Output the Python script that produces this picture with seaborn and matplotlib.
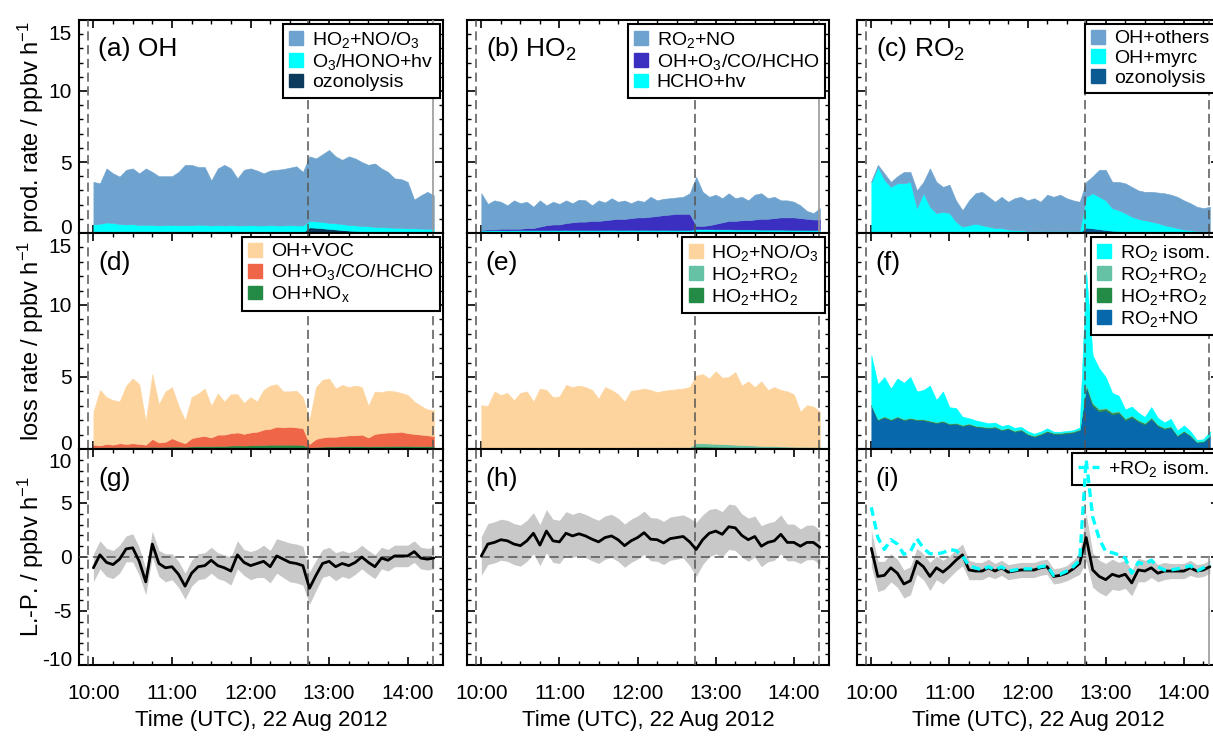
import matplotlib
matplotlib.use("Agg")
import matplotlib.pyplot as plt
from matplotlib.patches import Patch
from matplotlib.lines import Line2D
from matplotlib.ticker import MultipleLocator
from matplotlib.transforms import ScaledTranslation
import numpy as np
import seaborn as sns

# ---------------------------------------------------------------------------
# Time axis: minutes after 10:00 UTC, 22 Aug 2012
# ---------------------------------------------------------------------------
minutes = [0, 5, 10, 15, 20, 25, 30, 35, 40, 45, 50, 55, 60,
           65, 70, 75, 80, 85, 90, 95, 100, 105, 110, 115, 120, 125, 130, 135, 140, 145, 150, 155, 160,
           165, 170, 175, 180, 185, 190, 195, 200, 205, 210, 215, 220, 225, 230, 235, 240, 245, 250, 255, 260]
hour_ticks = [0, 60, 120, 180, 240]
hour_labels = ["10:00", "11:00", "12:00", "13:00", "14:00"]
event_minutes = [-4, 164, 259]

# ---------------------------------------------------------------------------
# (a) OH production terms, ppbv/h
# ---------------------------------------------------------------------------
oh_ozonolysis = [0.10, 0.10, 0.09, 0.09, 0.08, 0.08, 0.07, 0.07, 0.06, 0.06, 0.05, 0.05, 0.05,
                 0.04, 0.04, 0.04, 0.04, 0.04, 0.03, 0.03, 0.03, 0.03, 0.03, 0.03, 0.03, 0.03, 0.03, 0.03, 0.03, 0.03, 0.03, 0.03, 0.03,
                 0.40, 0.37, 0.33, 0.29, 0.25, 0.21, 0.17, 0.14, 0.11, 0.09, 0.07, 0.06, 0.05, 0.04, 0.04, 0.03, 0.03, 0.03, 0.03, 0.03]
oh_photolysis = [0.50, 0.55, 0.65, 0.62, 0.55, 0.52, 0.55, 0.50, 0.52, 0.50, 0.48, 0.50, 0.52,
                 0.50, 0.52, 0.50, 0.55, 0.52, 0.50, 0.52, 0.50, 0.52, 0.50, 0.50, 0.52, 0.50, 0.50, 0.52, 0.50, 0.50, 0.52, 0.50, 0.50,
                 0.45, 0.45, 0.45, 0.42, 0.43, 0.42, 0.40, 0.40, 0.38, 0.38, 0.36, 0.35, 0.34, 0.33, 0.32, 0.30, 0.30, 0.28, 0.27, 0.26]
oh_from_ho2 = [3.00, 2.85, 3.81, 3.49, 3.34, 3.85, 3.93, 3.63, 3.97, 3.74, 3.47, 3.45, 3.43,
               3.76, 4.24, 4.26, 4.06, 4.09, 3.17, 4.00, 4.27, 4.00, 3.32, 3.92, 4.00, 3.87, 3.67, 3.85, 3.92, 3.97, 4.05, 4.17, 3.77,
               4.55, 4.43, 4.77, 5.14, 4.72, 4.52, 4.83, 4.71, 4.51, 4.33, 4.47, 4.14, 3.91, 3.48, 3.44, 3.27, 2.02, 2.34, 2.60, 2.36]

# ---------------------------------------------------------------------------
# (b) HO2 production terms
# ---------------------------------------------------------------------------
ho2_hcho_phot = [0.18, 0.19, 0.20, 0.20, 0.19, 0.20, 0.21, 0.20, 0.20, 0.21, 0.20, 0.21, 0.21,
                 0.22, 0.21, 0.22, 0.22, 0.21, 0.22, 0.22, 0.23, 0.22, 0.22, 0.23, 0.22, 0.23, 0.22, 0.22, 0.23, 0.22, 0.22, 0.22, 0.22,
                 0.28, 0.27, 0.27, 0.26, 0.26, 0.26, 0.25, 0.25, 0.25, 0.25, 0.24, 0.24, 0.24, 0.24, 0.23, 0.23, 0.22, 0.22, 0.22, 0.22]
ho2_from_oh = [0.02, 0.06, 0.05, 0.10, 0.11, 0.10, 0.09, 0.15, 0.15, 0.24, 0.35, 0.39, 0.39,
               0.48, 0.54, 0.58, 0.58, 0.64, 0.63, 0.68, 0.72, 0.78, 0.77, 0.82, 0.88, 0.87, 0.93, 0.98, 1.03, 1.08, 1.13, 1.13, 1.13,
               0.22, 0.23, 0.28, 0.39, 0.49, 0.59, 0.60, 0.65, 0.65, 0.70, 0.76, 0.76, 0.81, 0.86, 0.87, 0.87, 0.83, 0.78, 0.73, 0.73]
ho2_from_ro2 = [2.60, 1.80, 2.05, 1.90, 1.65, 2.00, 1.80, 1.85, 1.50, 1.85, 1.40, 1.60, 1.45,
                1.60, 1.35, 1.55, 1.50, 1.10, 1.45, 1.25, 1.50, 1.20, 1.30, 1.05, 1.20, 1.10, 1.40, 1.10, 1.15, 1.15, 1.15, 1.20, 1.45,
                3.45, 2.40, 2.00, 2.05, 1.70, 1.95, 1.60, 1.65, 1.40, 1.75, 1.80, 1.45, 1.50, 1.20, 1.20, 1.10, 0.90, 0.55, 0.45, 0.80]

# ---------------------------------------------------------------------------
# (c) RO2 production terms
# ---------------------------------------------------------------------------
ro2_ozonolysis = [0.08, 0.08, 0.08, 0.07, 0.07, 0.07, 0.06, 0.06, 0.06, 0.05, 0.05, 0.05, 0.05,
                  0.04, 0.04, 0.04, 0.04, 0.04, 0.03, 0.03, 0.03, 0.03, 0.03, 0.03, 0.03, 0.03, 0.03, 0.03, 0.03, 0.03, 0.03, 0.03, 0.03,
                  0.38, 0.33, 0.27, 0.21, 0.16, 0.12, 0.09, 0.07, 0.05, 0.04, 0.04, 0.03, 0.03, 0.03, 0.03, 0.03, 0.03, 0.03, 0.03, 0.03]
ro2_myrcene = [3.52, 4.57, 3.67, 3.18, 3.43, 3.43, 3.54, 1.69, 2.74, 1.80, 1.35, 1.45, 1.35,
               0.76, 0.41, 0.51, 0.61, 0.51, 0.42, 0.32, 0.32, 0.22, 0.17, 0.17, 0.12, 0.12, 0.12, 0.12, 0.12, 0.12, 0.12, 0.12, 0.12,
               2.17, 2.47, 2.28, 2.09, 1.59, 1.48, 1.31, 1.08, 0.95, 0.86, 0.76, 0.67, 0.52, 0.42, 0.32, 0.22, 0.17, 0.12, 0.12, 0.07]
ro2_others = [0.05, 0.15, 0.45, 0.35, 0.50, 0.80, 0.70, 1.25, 0.80, 2.70, 2.20, 1.75, 2.00,
              1.50, 1.15, 1.75, 2.15, 2.35, 2.10, 1.85, 2.20, 1.95, 2.25, 2.35, 2.15, 2.30, 2.05, 2.55, 2.40, 2.55, 2.30, 2.15, 2.05,
              1.05, 1.20, 1.90, 2.15, 1.85, 2.00, 2.10, 2.10, 2.00, 2.00, 2.10, 2.15, 2.25, 2.25, 2.20, 2.05, 1.90, 1.70, 1.60, 1.75]

# ---------------------------------------------------------------------------
# (d) OH loss terms
# ---------------------------------------------------------------------------
oh_nox = [0.12, 0.12, 0.13, 0.13, 0.14, 0.14, 0.15, 0.15, 0.14, 0.16, 0.15, 0.16, 0.17,
          0.17, 0.16, 0.18, 0.20, 0.20, 0.20, 0.22, 0.22, 0.24, 0.25, 0.24, 0.26, 0.27, 0.28, 0.30, 0.30, 0.30, 0.30, 0.30, 0.28,
          0.10, 0.15, 0.17, 0.18, 0.18, 0.20, 0.20, 0.20, 0.20, 0.18, 0.20, 0.20, 0.21, 0.22, 0.22, 0.22, 0.21, 0.20, 0.20, 0.20]
oh_inorg = [0.18, 0.13, 0.22, 0.17, 0.26, 0.21, 0.25, 0.20, 0.16, 0.54, 0.30, 0.34, 0.58,
            0.38, 0.24, 0.57, 0.65, 0.70, 0.60, 0.78, 0.78, 0.86, 0.90, 0.81, 0.89, 0.93, 1.07, 1.10, 1.25, 1.20, 1.25, 1.20, 1.17,
            0.25, 0.55, 0.63, 0.67, 0.67, 0.70, 0.75, 0.75, 0.80, 0.62, 0.85, 0.90, 0.94, 0.93, 0.98, 0.88, 0.84, 0.80, 0.75, 0.70]
oh_voc = [2.30, 3.85, 3.25, 3.10, 2.90, 4.05, 4.50, 4.15, 1.60, 4.50, 2.65, 3.50, 3.55,
          2.45, 1.60, 2.85, 3.00, 3.30, 2.20, 2.85, 2.30, 2.70, 2.65, 2.15, 2.45, 2.10, 2.75, 3.00, 2.95, 2.50, 2.45, 2.55, 2.15,
          1.65, 3.60, 4.00, 4.05, 3.35, 3.55, 3.35, 3.45, 3.30, 2.20, 2.95, 2.85, 2.90, 2.85, 2.70, 2.65, 2.25, 2.00, 1.80, 1.80]

# ---------------------------------------------------------------------------
# (e) HO2 loss terms
# ---------------------------------------------------------------------------
ho2_self = [0.02, 0.02, 0.02, 0.03, 0.03, 0.02, 0.03, 0.03, 0.03, 0.03, 0.03, 0.03, 0.03,
            0.03, 0.03, 0.03, 0.03, 0.03, 0.03, 0.03, 0.03, 0.03, 0.03, 0.03, 0.03, 0.03, 0.03, 0.03, 0.03, 0.03, 0.03, 0.03, 0.04,
            0.18, 0.18, 0.17, 0.16, 0.15, 0.14, 0.13, 0.12, 0.11, 0.10, 0.09, 0.08, 0.08, 0.07, 0.07, 0.06, 0.06, 0.05, 0.05, 0.05]
ho2_ro2 = [0.05, 0.05, 0.05, 0.05, 0.05, 0.05, 0.05, 0.05, 0.05, 0.05, 0.05, 0.05, 0.05,
           0.06, 0.06, 0.06, 0.06, 0.06, 0.06, 0.06, 0.06, 0.06, 0.06, 0.08, 0.08, 0.08, 0.08, 0.08, 0.08, 0.08, 0.08, 0.08, 0.08,
           0.22, 0.22, 0.21, 0.20, 0.19, 0.18, 0.17, 0.16, 0.15, 0.14, 0.13, 0.12, 0.12, 0.11, 0.10, 0.10, 0.09, 0.09, 0.08, 0.08]
ho2_no = [2.97, 2.92, 3.92, 3.67, 3.82, 3.32, 3.82, 3.92, 3.22, 4.12, 4.02, 3.52, 3.57,
          4.36, 4.21, 4.31, 4.21, 4.01, 3.41, 4.21, 4.01, 3.71, 3.21, 3.94, 3.99, 4.09, 3.99, 3.84, 3.94, 3.99, 4.04, 4.09, 4.19,
          4.70, 4.80, 4.52, 5.04, 4.61, 4.68, 5.05, 4.12, 4.44, 4.06, 4.48, 3.90, 4.10, 3.92, 3.83, 3.64, 2.45, 2.91, 2.82, 2.47]

# ---------------------------------------------------------------------------
# (f) RO2 loss terms
# ---------------------------------------------------------------------------
ro2_no = [3.00, 2.00, 2.20, 2.00, 2.20, 2.00, 2.10, 2.00, 2.00, 1.90, 1.80, 1.90, 1.70,
          1.75, 1.60, 1.70, 1.55, 1.50, 1.45, 1.50, 1.30, 1.40, 1.20, 1.30, 1.00, 0.85, 1.00, 1.20, 1.05, 1.05, 1.10, 1.15, 1.30,
          4.30, 3.00, 2.60, 2.70, 2.40, 2.50, 2.00, 2.20, 1.90, 1.70, 2.10, 1.60, 1.40, 1.50, 0.90, 1.20, 0.90, 0.45, 0.50, 0.90]
ro2_ho2 = [0.06, 0.06, 0.06, 0.06, 0.06, 0.06, 0.06, 0.06, 0.06, 0.06, 0.06, 0.06, 0.06,
           0.06, 0.06, 0.06, 0.06, 0.06, 0.06, 0.06, 0.06, 0.06, 0.06, 0.06, 0.06, 0.06, 0.06, 0.06, 0.06, 0.06, 0.06, 0.06, 0.06,
           0.15, 0.14, 0.13, 0.12, 0.12, 0.11, 0.10, 0.10, 0.09, 0.09, 0.08, 0.08, 0.07, 0.07, 0.06, 0.06, 0.06, 0.05, 0.05, 0.05]
ro2_self = [0.03, 0.03, 0.03, 0.03, 0.03, 0.03, 0.03, 0.03, 0.03, 0.03, 0.03, 0.03, 0.03,
            0.03, 0.03, 0.03, 0.03, 0.03, 0.03, 0.03, 0.03, 0.03, 0.03, 0.03, 0.03, 0.03, 0.03, 0.03, 0.03, 0.03, 0.03, 0.03, 0.03,
            0.08, 0.07, 0.07, 0.06, 0.06, 0.05, 0.05, 0.05, 0.04, 0.04, 0.04, 0.04, 0.03, 0.03, 0.03, 0.03, 0.03, 0.03, 0.03, 0.03]
ro2_isom = [3.41, 2.41, 2.71, 2.11, 2.61, 2.51, 2.81, 1.91, 2.01, 2.41, 1.51, 2.01, 1.11,
            1.01, 0.55, 0.35, 0.35, 0.30, 0.25, 0.25, 0.20, 0.20, 0.18, 0.15, 0.15, 0.12, 0.12, 0.15, 0.06, 0.06, 0.06, 0.06, 0.11,
            7.77, 3.29, 2.80, 2.12, 1.32, 1.04, 0.60, 0.60, 0.50, 0.40, 0.70, 0.45, 0.35, 0.50, 0.30, 0.35, 0.25, 0.10, 0.10, 0.25]

# ---------------------------------------------------------------------------
# (g)-(i) loss minus production with uncertainty
# ---------------------------------------------------------------------------
oh_balance = [-1.0, 0.2, -0.5, -0.7, -0.2, 0.75, 0.85, -0.4, -2.3, 1.2, -0.6, -1.0, -0.9,
              -1.6, -2.7, -1.5, -0.9, -0.8, -0.3, -0.8, -1.0, -1.3, 0.2, -0.5, -0.8, -0.6, -0.4, -0.9, 0.1, -0.2, -0.5, -0.6, -0.8,
              -2.9, -1.7, -0.6, -0.4, -0.9, -0.6, -0.8, -0.5, 0.0, -0.5, -0.9, -0.1, -0.3, 0.1, 0.1, 0.1, 0.5, -0.1, -0.2, -0.1]
oh_balance_err = [1.3, 1.3, 1.3, 1.3, 1.3, 1.2, 1.3, 1.3, 1.2, 1.2, 1.2, 1.3, 1.2,
                  1.2, 1.2, 1.2, 1.2, 1.2, 1.2, 1.2, 1.2, 1.3, 1.3, 1.2, 1.3, 1.3, 1.5, 1.5, 1.6, 1.7, 1.8, 1.8, 1.8,
                  1.5, 1.4, 1.3, 1.3, 1.3, 1.2, 1.2, 1.1, 1.1, 1.1, 1.1, 1.0, 1.0, 1.0, 1.0, 1.0, 1.0, 1.0, 1.0, 1.0]
ho2_balance = [0.1, 1.2, 1.35, 1.6, 1.5, 1.2, 1.05, 1.5, 2.2, 1.1, 2.4, 1.5, 1.4,
               2.2, 1.95, 2.15, 1.95, 1.65, 1.4, 1.8, 1.95, 1.6, 1.05, 1.5, 1.8, 2.25, 1.65, 1.6, 1.3, 1.7, 1.8, 1.9, 1.4,
               0.7, 1.6, 2.2, 2.4, 2.1, 2.8, 2.7, 2.0, 1.6, 1.9, 1.0, 1.35, 1.5, 2.1, 1.35, 1.35, 1.0, 1.35, 1.35, 0.9]
ho2_balance_err = [1.8, 1.9, 1.9, 1.9, 1.9, 1.9, 1.9, 1.9, 1.9, 1.9, 2.0, 2.0, 2.0,
                   2.0, 2.0, 2.0, 2.0, 2.0, 2.0, 2.0, 2.0, 2.0, 2.0, 2.0, 2.0, 2.0, 2.0, 2.0, 2.0, 2.0, 2.0, 2.0, 2.2,
                   2.5, 2.3, 2.2, 2.1, 2.1, 2.1, 2.1, 2.0, 2.0, 1.9, 1.9, 1.8, 1.8, 1.8, 1.7, 1.7, 1.6, 1.6, 1.6, 1.6]
ro2_balance = [0.8, -1.8, -1.7, -1.0, -1.5, -2.5, -2.2, -0.4, -0.9, -1.8, -1.0, -1.4, -0.9,
               -0.3, 0.2, -1.2, -1.3, -1.3, -1.0, -1.3, -1.0, -1.4, -1.3, -1.2, -1.2, -1.2, -1.0, -0.9, -1.8, -1.7, -1.5, -1.1, -0.6,
               1.8, -1.2, -1.8, -2.1, -1.6, -1.8, -1.6, -2.4, -1.2, -1.3, -1.0, -1.5, -1.3, -1.3, -1.3, -1.3, -1.0, -1.3, -1.2, -0.9]
ro2_balance_err = [1.7, 1.4, 1.3, 1.3, 1.3, 1.3, 1.3, 1.2, 1.2, 1.3, 1.1, 1.1, 1.0,
                   1.0, 1.0, 0.9, 0.8, 0.8, 0.8, 0.7, 0.7, 0.7, 0.7, 0.7, 0.7, 0.7, 0.7, 0.7, 0.7, 0.7, 0.7, 0.8, 1.0,
                   2.2, 1.6, 1.5, 1.5, 1.4, 1.3, 1.3, 1.2, 1.1, 1.0, 0.9, 0.8, 0.8, 0.7, 0.7, 0.7, 0.7, 0.6, 0.6, 0.6]
ro2_balance_isom = [4.6, 1.8, 0.7, 1.6, 1.2, 0.25, 0.5, 1.7, 0.8, 0.3, 0.3, 0.4, 0.7,
                    0.6, 0.1, -0.8, -1.0, -1.2, -0.9, -1.2, -0.9, -1.3, -1.2, -1.1, -1.1, -1.1, -0.9, -0.8, -1.7, -1.6, -1.3, -0.9, -0.3,
                    9.0, 3.7, 1.7, 0.5, 0.4, 0.2, -0.1, -1.5, -0.5, -0.7, -0.3, -0.9, -1.2, -1.2, -1.1, -1.0, -0.8, -1.3, -1.0, -0.7]

# ---------------------------------------------------------------------------
# Colours
# ---------------------------------------------------------------------------
LIGHT_BLUE = "#6fa3cf"
CYAN = "#00ffff"
NAVY = "#0b3a5c"
INDIGO = "#3a2fc0"
OZ_BLUE = "#0b5a92"
PEACH = "#fdd49e"
RED = "#ef6548"
GREEN = "#238b45"
AQUA = "#66c2a4"
NO_BLUE = "#0868ac"
BAND = "#c8c8c8"
EVENT = "#555555"

sns.set_theme(style="ticks")
plt.rcParams.update({
    "font.family": ["Liberation Sans", "DejaVu Sans"],
    "mathtext.fontset": "custom",
    "mathtext.rm": "Liberation Sans",
    "mathtext.it": "Liberation Sans:italic",
    "mathtext.bf": "Liberation Sans:bold",
    "axes.unicode_minus": False,
    "text.color": "black",
    "axes.labelcolor": "black",
    "xtick.color": "black",
    "ytick.color": "black",
})

FIG_W, FIG_H = 1213, 743
fig = plt.figure(figsize=(FIG_W / 100, FIG_H / 100), dpi=100)
fig.patch.set_facecolor("white")

col_px = [(79, 443), (467, 829), (857, 1219)]
row_px = [(20, 233), (233, 449), (449, 665)]


def make_axes(row, col):
    x0, x1 = col_px[col]
    y0, y1 = row_px[row]
    return fig.add_axes([x0 / FIG_W, 1 - y1 / FIG_H, (x1 - x0) / FIG_W, (y1 - y0) / FIG_H])


def style_axes(ax, row, col):
    ax.set_facecolor("white")
    ax.set_xlim(-11, 267)
    if row < 2:
        ax.set_ylim(0, 15)
        yt = [0, 5, 10, 15]
    else:
        ax.set_ylim(-10, 10)
        yt = [-10, -5, 0, 5, 10]
    ax.set_xticks(hour_ticks, labels=hour_labels)
    ax.xaxis.set_minor_locator(MultipleLocator(15))
    ax.set_yticks(yt, labels=[str(v) for v in yt])
    ax.yaxis.set_minor_locator(MultipleLocator(1))
    ax.tick_params(axis="both", which="both", direction="in",
                   top=True, bottom=True, left=True, right=True)
    ax.tick_params(which="major", length=6, width=1.2)
    ax.tick_params(which="minor", length=3, width=1.0)
    ax.tick_params(axis="x", labelsize=15, pad=14, labelbottom=(row == 2))
    ax.tick_params(axis="y", labelsize=15, pad=5, labelleft=(col == 0))
    for sp in ax.spines.values():
        sp.set_visible(True)
        sp.set_linewidth(1.5)
        sp.set_color("black")
    if col == 0:
        ticks = ax.yaxis.get_major_ticks()
        lo = ticks[0].label1
        lo.set_transform(lo.get_transform() + ScaledTranslation(0, 0.06, fig.dpi_scale_trans))
        hi = ticks[-1].label1
        hi.set_transform(hi.get_transform() + ScaledTranslation(0, -0.12, fig.dpi_scale_trans))
        ax.yaxis.set_label_coords(-0.092, 0.5)
    if row == 2:
        ax.set_xlabel("Time (UTC), 22 Aug 2012", fontsize=16, labelpad=5)


def event_lines(ax, solid_end=False):
    for m in event_minutes[:2]:
        ax.axvline(m, color=EVENT, lw=1.1, ls=(0, (6, 3)), zorder=3)
    if solid_end:
        ax.axvline(event_minutes[2], color="#9a9a9a", lw=1.2, zorder=3)
    else:
        ax.axvline(event_minutes[2], color=EVENT, lw=1.1, ls=(0, (6, 3)), zorder=3)


def panel_label(ax, text):
    ax.text(0.052, 0.83, text, transform=ax.transAxes, fontsize=19,
            ha="left", va="baseline", zorder=6)


def add_legend(ax, handles, labels, handlelength=0.72):
    leg = ax.legend(handles, labels, loc="upper right", fontsize=14, frameon=True,
                    fancybox=False, framealpha=1, edgecolor="black", borderpad=0.32,
                    labelspacing=0.1, handlelength=handlelength, handleheight=0.72,
                    handletextpad=0.45, borderaxespad=0.18)
    leg.get_frame().set_linewidth(1.5)
    leg.set_zorder(5)
    return leg


def stack(ax, layers, colors):
    ax.stackplot(minutes, *layers, colors=colors, linewidth=0.4,
                 edgecolor="face", zorder=2)


axes = [[make_axes(r, c) for c in range(3)] for r in range(3)]

# ---- row 1: production ----------------------------------------------------
ax = axes[0][0]
stack(ax, [oh_ozonolysis, oh_photolysis, oh_from_ho2], [NAVY, CYAN, LIGHT_BLUE])
event_lines(ax, solid_end=True)
panel_label(ax, "(a) OH")
add_legend(ax, [Patch(color=LIGHT_BLUE), Patch(color=CYAN), Patch(color=NAVY)],
           ["HO$_2$+NO/O$_3$", "O$_3$/HONO+hv", "ozonolysis"])
ax.set_ylabel("prod. rate / ppbv h$^{-1}$", fontsize=17)

ax = axes[0][1]
stack(ax, [ho2_hcho_phot, ho2_from_oh, ho2_from_ro2], [CYAN, INDIGO, LIGHT_BLUE])
event_lines(ax, solid_end=True)
panel_label(ax, "(b) HO$_2$")
add_legend(ax, [Patch(color=LIGHT_BLUE), Patch(color=INDIGO), Patch(color=CYAN)],
           ["RO$_2$+NO", "OH+O$_3$/CO/HCHO", "HCHO+hv"])

ax = axes[0][2]
stack(ax, [ro2_ozonolysis, ro2_myrcene, ro2_others], [OZ_BLUE, CYAN, LIGHT_BLUE])
event_lines(ax)
panel_label(ax, "(c) RO$_2$")
add_legend(ax, [Patch(color=LIGHT_BLUE), Patch(color=CYAN), Patch(color=OZ_BLUE)],
           ["OH+others", "OH+myrc", "ozonolysis"])

# ---- row 2: loss ----------------------------------------------------------
ax = axes[1][0]
stack(ax, [oh_nox, oh_inorg, oh_voc], [GREEN, RED, PEACH])
event_lines(ax)
panel_label(ax, "(d)")
add_legend(ax, [Patch(color=PEACH), Patch(color=RED), Patch(color=GREEN)],
           ["OH+VOC", "OH+O$_3$/CO/HCHO", "OH+NO$_\\mathrm{x}$"])
ax.set_ylabel("loss rate / ppbv h$^{-1}$", fontsize=17)

ax = axes[1][1]
stack(ax, [ho2_self, ho2_ro2, ho2_no], [GREEN, AQUA, PEACH])
event_lines(ax)
panel_label(ax, "(e)")
add_legend(ax, [Patch(color=PEACH), Patch(color=AQUA), Patch(color=GREEN)],
           ["HO$_2$+NO/O$_3$", "HO$_2$+RO$_2$", "HO$_2$+HO$_2$"])

ax = axes[1][2]
stack(ax, [ro2_no, ro2_ho2, ro2_self, ro2_isom], [NO_BLUE, GREEN, AQUA, CYAN])
event_lines(ax)
panel_label(ax, "(f)")
add_legend(ax, [Patch(color=CYAN), Patch(color=AQUA), Patch(color=GREEN), Patch(color=NO_BLUE)],
           ["RO$_2$ isom.", "RO$_2$+RO$_2$", "HO$_2$+RO$_2$", "RO$_2$+NO"])

# ---- row 3: loss minus production -----------------------------------------
balances = [(oh_balance, oh_balance_err, "(g)"),
            (ho2_balance, ho2_balance_err, "(h)"),
            (ro2_balance, ro2_balance_err, "(i)")]
for c, (vals, err, lab) in enumerate(balances):
    ax = axes[2][c]
    v = np.asarray(vals)
    e = np.asarray(err)
    ax.fill_between(minutes, v - e, v + e, color=BAND, lw=0, zorder=2)
    ax.axhline(0, color=EVENT, lw=1.1, ls=(0, (6, 3)), zorder=3)
    if c < 2:
        event_lines(ax)
    else:
        for m in event_minutes[:2]:
            ax.axvline(m, color=EVENT, lw=1.1, ls=(0, (6, 3)), zorder=3)
        ax.vlines(event_minutes[2], -10, 0, color="#9a9a9a", lw=1.2, zorder=3)
    sns.lineplot(x=minutes, y=vals, ax=ax, color="black", lw=2.0, zorder=4)
    panel_label(ax, lab)

ax = axes[2][2]
sns.lineplot(x=minutes, y=ro2_balance_isom, ax=ax, color=CYAN, lw=2.4, zorder=6)
ax.lines[-1].set_linestyle((0, (2.6, 1.6)))
add_legend(ax, [Line2D([0], [0], color=CYAN, lw=2.4, ls=(0, (2.6, 1.6)))],
           ["+RO$_2$ isom."], handlelength=1.1)
axes[2][0].set_ylabel("L.-P. / ppbv h$^{-1}$", fontsize=17)

for r in range(3):
    for c in range(3):
        style_axes(axes[r][c], r, c)

fig.savefig("out.png", dpi=100, facecolor="white")
